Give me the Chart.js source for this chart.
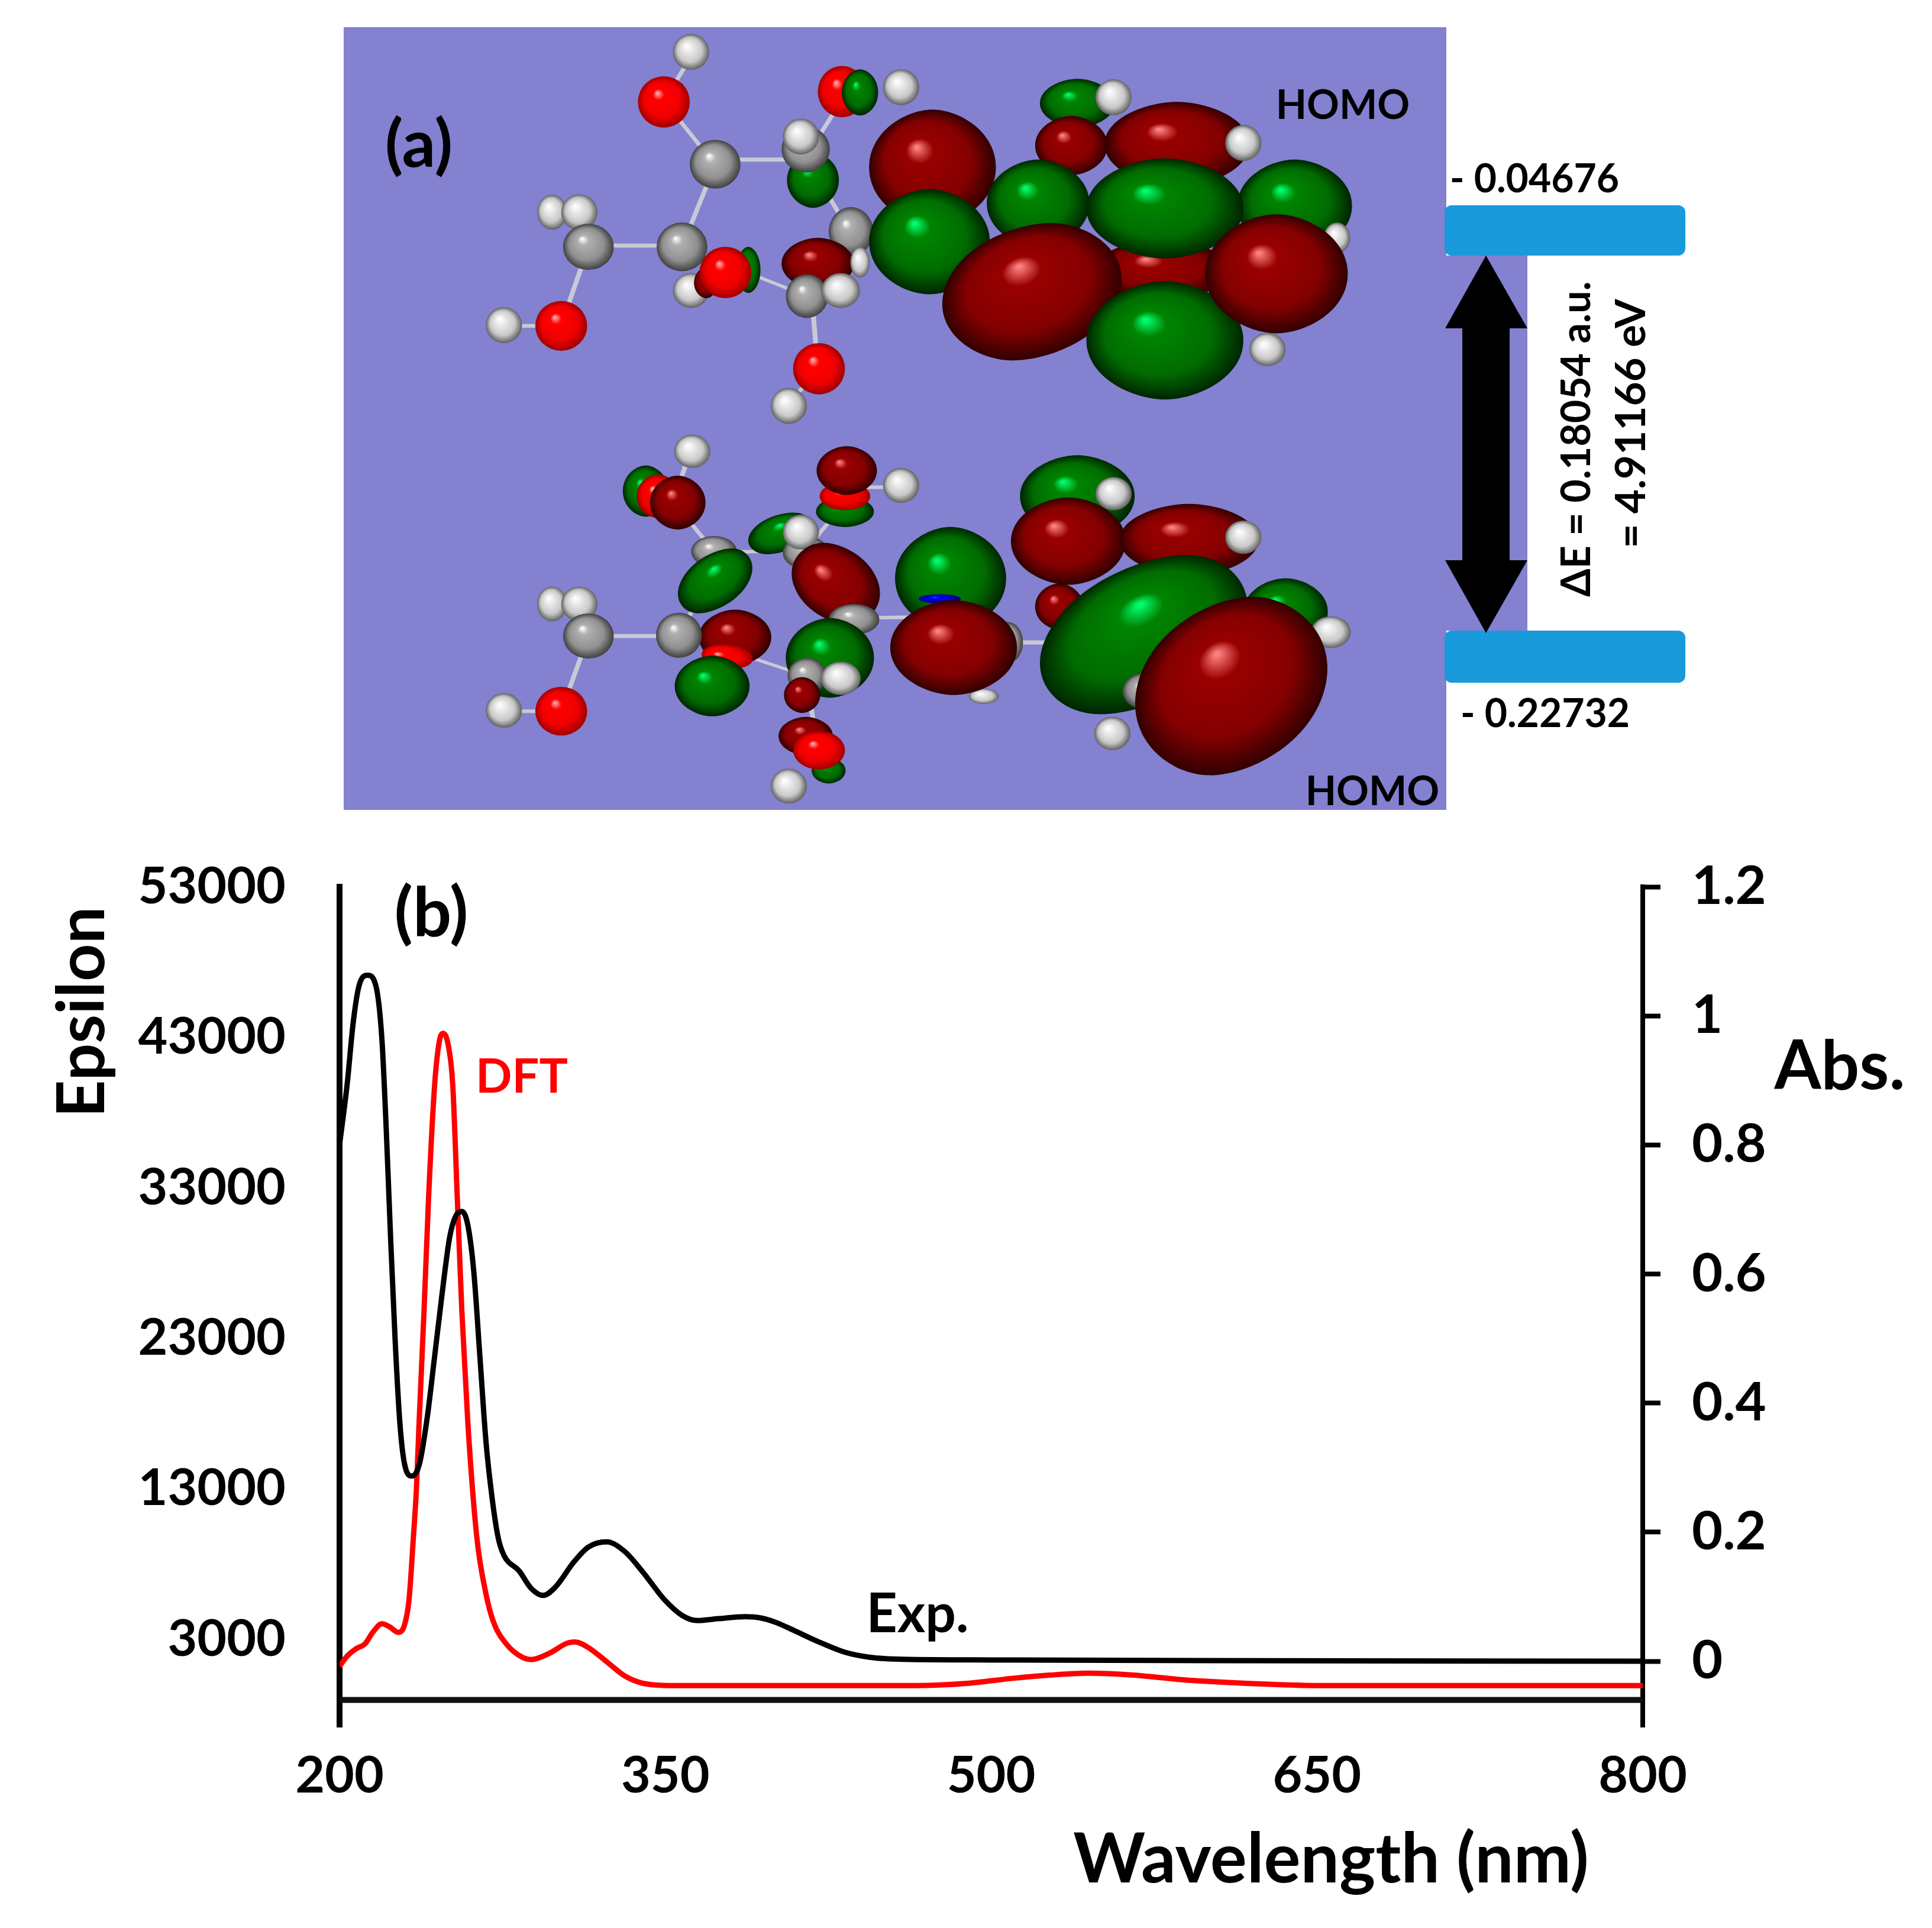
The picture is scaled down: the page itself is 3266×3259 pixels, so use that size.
<!DOCTYPE html>
<html>
<head>
<meta charset="utf-8">
<title>Epsilon / Abs. spectrum</title>
<script src="https://cdn.jsdelivr.net/npm/chart.js@4/dist/chart.umd.min.js"></script>
<style>
	html, body { margin: 0; padding: 0; background: #fff; }
	canvas { display: block; }
</style>
</head>
<body>
<canvas id="spectrum-chart" width="3266" height="3259"></canvas>
<script>
const wavelengthTicks = [200, 350, 500, 650, 800];
const epsilonTicks = [3000, 13000, 23000, 33000, 43000, 53000];
const absTicks = [0, 0.2, 0.4, 0.6, 0.8, 1, 1.2];

const expWavelength = [200, 203.5, 206.3, 209, 212.9, 216.7, 219.5, 221.5, 223.6, 225.7, 227.8, 229.9, 233.3, 236.8, 240.3, 243.8, 247.2, 250.7, 253.5, 256.3, 259.1, 261.8, 264.6, 267.4, 270.2, 273, 275.7, 282.7, 288.2, 293.8, 299.4, 307.7, 314.6, 323, 331.3, 339.7, 349.4, 357.7, 364.7, 374.4, 386.9, 394, 401, 409, 420.6, 432.6, 444.3, 459, 500, 600, 800];
const expAbs = [0.8, 0.894, 0.99, 1.047, 1.063, 1.047, 0.964, 0.824, 0.648, 0.49, 0.368, 0.306, 0.287, 0.306, 0.376, 0.473, 0.569, 0.657, 0.69, 0.697, 0.675, 0.604, 0.473, 0.341, 0.254, 0.192, 0.164, 0.14, 0.113, 0.102, 0.115, 0.153, 0.177, 0.185, 0.17, 0.138, 0.096, 0.071, 0.063, 0.066, 0.069, 0.067, 0.06, 0.048, 0.03, 0.014, 0.006, 0.003, 0.002, 0.001, 0];

const dftWavelength = [200, 203.5, 207.6, 211.8, 215.3, 219.5, 222.9, 227.1, 229.9, 232, 234, 235.4, 236.6, 238.9, 241, 243.8, 245.9, 247.7, 250, 252.1, 254.2, 256.3, 259.1, 263.2, 267.4, 270.9, 277.1, 284.1, 288.2, 296.6, 304.9, 308.4, 314.6, 323, 331.3, 339.7, 353.6, 397.7, 465, 488.8, 509.5, 527, 544.8, 565.5, 586, 606.6, 630, 654, 800];
const dftEpsilon = [1207, 1884, 2372, 2711, 3464, 4028, 3840, 3464, 3953, 5646, 9784, 13000, 17308, 24832, 32356, 39880, 42702, 43266, 42513, 39880, 32356, 24832, 17308, 9784, 6022, 4141, 2636, 1809, 1658, 2072, 2749, 2824, 2448, 1508, 568, 79, -72, -76, -76, 70, 400, 620, 750, 620, 340, 150, 3, -76, -76];

const baselineWavelength = [200, 800];
const baselineAbs = [-0.06, -0.06];

const fontName = 'Lato, "Open Sans", sans-serif';

// text that sits on the figure: text, centre x, centre y, size, colour, rotated
const figureTexts = [
	['(a)', 708, 246, 112, '#000', false],
	['HOMO', 2270, 179, 68, '#000', false],
	['HOMO', 2320, 1339, 68, '#000', false],
	['- 0.04676', 2594, 304, 66, '#000', false],
	['- 0.22732', 2612, 1208, 66, '#000', false],
	['ΔE = 0.18054 a.u.', 2666, 742, 68, '#000', true],
	['= 4.91166 eV', 2758, 716, 71, '#000', true],
	['(b)', 729, 1545, 115, '#000', false],
	['DFT', 882, 1821, 81, '#ff0000', false],
	['Exp.', 1551, 2730, 91, '#000', false],
	['Abs.', 3110, 1804, 114, '#000', false],
	['Epsilon', 140, 1711, 111, '#000', true],
	['Wavelength (nm)', 2250, 3145, 116, '#000', false],
];

// panel (a) is a rendered molecule, sketched with shaded blobs.
// shading stops: highlight, body, mid, edge
const shades = {
	R: ['#ff8080', '#990000', '#840000', '#300000'],
	G: ['#00ff70', '#008400', '#006c00', '#002400'],
	O: ['#ffb0b0', '#ff0000', '#f00000', '#a00000'],
	H: ['#ffffff', '#f0f0f0', '#c8c8c8', '#606060'],
	C: ['#ffffff', '#b0b0b0', '#909090', '#404040'],
	B: ['#4040ff', '#0000e0', '#0000c0', '#000080'],
};

// [kind, x, y, rx, ry, rotation] measured on the stretched crop
const topBonds = [[400, 130, 355, 300, 8], [355, 300, 440, 550, 8], [440, 530, 590, 530, 16], [440, 550, 385, 870, 8], [385, 865, 230, 865, 16], [230, 870, 185, 1175, 8], [185, 1178, 90, 1178, 14], [590, 520, 660, 800, 8], [590, 520, 660, 260, 8], [385, 870, 590, 1060, 10], [600, 1060, 610, 1345, 8], [610, 1345, 560, 1490, 8]];
const topAtoms = [
	['H', 400, 110, 30, 70], ['O', 355, 305, 43, 100], ['O', 650, 265, 40, 100], ['G', 680, 268, 30, 90], ['H', 748, 248, 30, 70],
	['C', 440, 548, 42, 95], ['G', 602, 610, 43, 108], ['C', 590, 490, 40, 90], ['H', 582, 440, 30, 70],
	['H', 170, 735, 25, 68], ['H', 215, 735, 30, 70], ['C', 230, 870, 42, 90], ['C', 385, 870, 42, 95], ['C', 665, 810, 37, 95],
	['H', 90, 1175, 30, 70], ['O', 185, 1178, 43, 97], ['H', 400, 1040, 30, 68], ['R', 610, 935, 60, 100], ['H', 680, 930, 16, 60],
	['G', 495, 960, 20, 90], ['R', 425, 1010, 20, 60], ['O', 457, 970, 43, 100], ['C', 592, 1062, 35, 85], ['H', 648, 1040, 32, 68],
	['O', 612, 1345, 43, 100], ['H', 562, 1490, 30, 70],
	['R', 800, 560, 105, 225], ['G', 795, 850, 100, 205], ['G', 1040, 310, 62, 95], ['H', 1100, 287, 30, 70], ['R', 1030, 475, 60, 115],
	['R', 1205, 470, 120, 165], ['H', 1315, 465, 30, 70], ['G', 975, 700, 85, 170], ['G', 1400, 710, 95, 180], ['H', 1470, 835, 22, 60],
	['R', 1180, 960, 110, 120], ['G', 1185, 720, 130, 195], ['R', 965, 1045, 145, 270, 0.15], ['H', 1355, 1270, 30, 65],
	['G', 1185, 1235, 130, 230], ['R', 1370, 975, 118, 232],
];

const bottomBonds = [[400, 140, 370, 340, 8], [370, 340, 440, 540, 8], [440, 540, 590, 530, 14], [590, 530, 660, 330, 8], [660, 285, 745, 285, 14], [440, 540, 385, 860, 8], [385, 865, 230, 865, 16], [230, 865, 185, 1158, 8], [185, 1158, 90, 1158, 14], [385, 860, 590, 1020, 10], [590, 530, 670, 800, 8], [670, 795, 810, 790, 14], [940, 890, 1000, 890, 16], [590, 1020, 610, 1300, 8]];
const bottomAtoms = [
	['H', 402, 145, 30, 65], ['G', 325, 300, 38, 100], ['O', 345, 320, 35, 85], ['R', 378, 345, 46, 105],
	['G', 655, 380, 48, 60], ['O', 655, 320, 42, 55], ['R', 658, 220, 50, 95], ['H', 748, 278, 30, 68],
	['C', 438, 535, 38, 60], ['G', 548, 465, 48, 85, 0.35], ['C', 590, 540, 38, 65], ['H', 582, 460, 30, 68],
	['R', 640, 660, 70, 160, -0.15], ['G', 440, 650, 55, 130, 0.25], ['H', 170, 740, 25, 68], ['H', 215, 740, 30, 68],
	['C', 230, 865, 42, 88], ['R', 473, 870, 60, 108], ['C', 380, 862, 38, 88], ['C', 670, 800, 42, 60], ['O', 460, 945, 40, 50, -0.5],
	['G', 435, 1060, 62, 118], ['G', 630, 950, 73, 155], ['C', 592, 1020, 32, 70], ['H', 648, 1030, 33, 65], ['R', 584, 1095, 30, 70],
	['H', 90, 1155, 30, 68], ['O', 185, 1158, 43, 95], ['R', 590, 1255, 45, 75], ['G', 628, 1390, 28, 50], ['O', 612, 1310, 43, 75], ['H', 562, 1450, 30, 68],
	['C', 925, 890, 25, 80], ['H', 885, 1100, 25, 30], ['G', 830, 640, 92, 200], ['B', 812, 720, 35, 18], ['R', 835, 910, 105, 185],
	['G', 1040, 320, 95, 160], ['H', 1100, 310, 30, 65], ['R', 1010, 750, 40, 90], ['R', 1025, 495, 95, 170], ['R', 1225, 490, 115, 140], ['H', 1315, 480, 30, 65],
	['G', 1385, 770, 70, 130], ['C', 1345, 810, 30, 30], ['H', 1460, 850, 33, 62], ['G', 1150, 860, 155, 320, 0.28], ['G', 1240, 960, 70, 110, 0.5],
	['C', 1150, 1080, 35, 70], ['H', 1098, 1245, 30, 65], ['R', 1295, 1060, 155, 350, 0.12],
];

function drawBlob(ctx, blob) {
	const [kind, x, y, rx, ry, rot] = blob;
	const s = shades[kind];
	ctx.save();
	ctx.translate(x, y);
	ctx.rotate(rot || 0);
	ctx.scale(rx, ry);
	const g = ctx.createRadialGradient(-0.25, -0.35, 0.02, 0, 0, 1);
	g.addColorStop(0, s[0]);
	g.addColorStop(0.2, s[1]);
	g.addColorStop(0.68, s[2]);
	g.addColorStop(1, s[3]);
	ctx.fillStyle = g;
	ctx.beginPath();
	if (kind === 'R' || kind === 'G') {
		// orbital lobes taper towards their ends
		ctx.moveTo(0, -1);
		ctx.bezierCurveTo(0.42, -1, 1, -0.62, 1, 0);
		ctx.bezierCurveTo(1, 0.62, 0.42, 1, 0, 1);
		ctx.bezierCurveTo(-0.42, 1, -1, 0.62, -1, 0);
		ctx.bezierCurveTo(-1, -0.62, -0.42, -1, 0, -1);
	} else {
		ctx.arc(0, 0, 1, 0, Math.PI * 2);
	}
	ctx.fill();
	ctx.restore();
}

function drawMolecule(ctx, originY, bonds, atoms) {
	ctx.save();
	ctx.translate(760, originY);
	ctx.scale(1 / 0.98, 1 / 2.306);
	ctx.strokeStyle = '#c9c9d6';
	bonds.forEach(b => {
		ctx.lineWidth = b[4];
		ctx.beginPath();
		ctx.moveTo(b[0], b[1]);
		ctx.lineTo(b[2], b[3]);
		ctx.stroke();
	});
	atoms.forEach(a => drawBlob(ctx, a));
	ctx.restore();
}

function drawEnergyLevel(ctx, y, h) {
	ctx.fillStyle = '#189adb';
	ctx.beginPath();
	ctx.roundRect(2442, y, 407, h, 12);
	ctx.fill();
}

const figurePanel = {
	id: 'figurePanel',
	afterDraw(chart) {
		const ctx = chart.ctx;
		ctx.save();
		ctx.fillStyle = '#8381d0';
		ctx.fillRect(581, 46, 1864, 1323);
		ctx.fillRect(2445, 432, 137, 634);
		drawMolecule(ctx, 40, topBonds, topAtoms);
		drawMolecule(ctx, 700, bottomBonds, bottomAtoms);
		drawEnergyLevel(ctx, 347, 85);
		drawEnergyLevel(ctx, 1066, 88);

		// double arrow between the levels
		ctx.fillStyle = '#000';
		ctx.beginPath();
		[[2512, 432], [2582, 555], [2552, 555], [2552, 947], [2582, 947], [2512, 1070], [2443, 947], [2472, 947], [2472, 555], [2443, 555]].forEach(p => ctx.lineTo(p[0], p[1]));
		ctx.closePath();
		ctx.fill();

		ctx.textAlign = 'center';
		ctx.textBaseline = 'middle';
		figureTexts.forEach(([text, x, y, size, color, rotated]) => {
			ctx.save();
			ctx.translate(x, y);
			if (rotated) ctx.rotate(-Math.PI / 2);
			ctx.font = 'bold ' + size + 'px ' + fontName;
			ctx.fillStyle = color;
			ctx.fillText(text, 0, 0);
			ctx.restore();
		});
		ctx.restore();
	}
};

const toPoints = (xs, ys) => xs.map((x, i) => ({ x: x, y: ys[i] }));

new Chart(
	document.getElementById('spectrum-chart'),
	{
		type: 'line',
		data: {
			datasets: [
				{
					label: 'Exp.',
					data: toPoints(expWavelength, expAbs),
					yAxisID: 'yAbs',
					borderColor: '#000',
					borderWidth: 9,
					cubicInterpolationMode: 'monotone',
					pointRadius: 0,
				},
				{
					label: 'DFT',
					data: toPoints(dftWavelength, dftEpsilon),
					yAxisID: 'yEpsilon',
					borderColor: '#ff0000',
					borderWidth: 9,
					cubicInterpolationMode: 'monotone',
					pointRadius: 0,
				},
				{
					label: 'Baseline',
					data: toPoints(baselineWavelength, baselineAbs),
					yAxisID: 'yAbs',
					borderColor: '#111',
					borderWidth: 10,
					pointRadius: 0,
				},
			]
		},
		options: {
			responsive: false,
			animation: false,
			devicePixelRatio: 1,
			layout: { padding: { top: 1499 } },
			plugins: {
				legend: { display: false },
				tooltip: { enabled: false },
			},
			scales: {
				x: {
					type: 'linear',
					min: 200,
					max: 800,
					afterBuildTicks: scale => { scale.ticks = wavelengthTicks.map(v => ({ value: v })); },
					afterFit: scale => { scale.height = 340; },
					grid: { display: false, drawTicks: false },
					border: { display: false },
					ticks: {
						color: '#000',
						autoSkip: false,
						maxRotation: 0,
						padding: 32,
						font: { family: fontName, size: 86, weight: 'bold' },
					},
				},
				yEpsilon: {
					position: 'left',
					min: -2818,
					max: 53000,
					afterBuildTicks: scale => { scale.ticks = epsilonTicks.map(v => ({ value: v })); },
					afterFit: scale => { scale.width = 574; },
					grid: { display: false, drawTicks: false },
					border: { display: true, color: '#000', width: 10 },
					ticks: {
						color: '#000',
						padding: 91,
						callback: v => String(v),
						font: { family: fontName, size: 86, weight: 'bold' },
					},
				},
				yAbs: {
					position: 'right',
					min: -0.1017,
					max: 1.2,
					afterBuildTicks: scale => { scale.ticks = absTicks.map(v => ({ value: v })); },
					afterFit: scale => { scale.width = 489; },
					grid: { drawOnChartArea: false, tickLength: 30, tickWidth: 8, tickColor: '#000', color: '#000' },
					border: { display: true, color: '#000', width: 8 },
					ticks: {
						color: '#000',
						padding: 53,
						callback: v => String(v),
						font: { family: fontName, size: 90, weight: 'bold' },
					},
				},
			}
		},
		plugins: [figurePanel],
	}
);
</script>
</body>
</html>
